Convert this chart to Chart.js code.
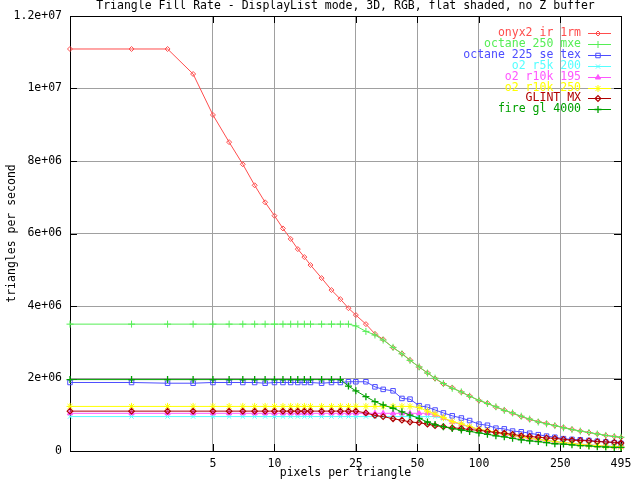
<!DOCTYPE html>
<html>
<head>
<meta charset="utf-8">
<script src="https://cdn.jsdelivr.net/npm/chart.js@4.4.0/dist/chart.umd.min.js"></script>
<style>
html,body{margin:0;padding:0;background:#ffffff;}
canvas{display:block;}
</style>
</head>
<body>
<canvas id="c" width="640" height="480"></canvas>
<script>
// ---------- data ----------
const titleText = "Triangle Fill Rate - DisplayList mode, 3D, RGB, flat shaded, no Z buffer";
const xAxisTitle = "pixels per triangle";
const yAxisTitle = "triangles per second";

const pixelsPerTriangle = [1,2,3,4,5,6,7,8,9,10,11,12,13,14,15,17,19,21,23,25,
  28,31,34,38,42,46,51,56,61,67,74,82,90,100,110,121,133,146,161,177,195,214,235,259,285,313,345,379,417,459,495];

const xTickValues = [1,5,10,25,50,100,250,495];
const xTickLabels = ["","5","10","25","50","100","250","495"];
const yTickValues = [0,2e6,4e6,6e6,8e6,10e6,12e6];
const yTickLabels = ["0","2e+06","4e+06","6e+06","8e+06","1e+07","1.2e+07"];

const seriesNames = ["onyx2 ir 1rm","octane 250 mxe","octane 225 se tex","o2 r5k 200","o2 r10k 195","o2 r10k 250","GLINT MX","fire gl 4000"];

const onyx2 = [11.09e6,11.09e6,11.09e6,10.40e6,9.27e6,8.52e6,7.91e6,7.33e6,6.86e6,6.49e6,6.14e6,5.85e6,5.57e6,5.35e6,5.13e6,
  4.77e6,4.44e6,4.19e6,3.94e6,3.75e6,
  3.50e6,3.23e6,3.08e6,2.85e6,2.69e6,2.51e6,2.31e6,2.16e6,2.00e6,1.85e6,
  1.75e6,1.62e6,1.52e6,1.39e6,1.32e6,1.21e6,1.13e6,1.04e6,0.95e6,0.87e6,
  0.81e6,0.76e6,0.70e6,0.65e6,0.60e6,0.55e6,0.51e6,0.47e6,0.43e6,0.40e6,0.37e6];

const octane250 = [3.50e6,3.50e6,3.50e6,3.50e6,3.50e6,3.50e6,3.50e6,3.50e6,3.50e6,3.50e6,3.50e6,3.50e6,3.50e6,3.50e6,3.50e6,
  3.50e6,3.50e6,3.50e6,3.50e6,3.45e6,
  3.30e6,3.20e6,3.06e6,2.86e6,2.68e6,2.50e6,2.32e6,2.15e6,2.01e6,1.86e6,
  1.73e6,1.63e6,1.51e6,1.40e6,1.31e6,1.22e6,1.12e6,1.05e6,0.96e6,0.88e6,
  0.80e6,0.75e6,0.70e6,0.64e6,0.59e6,0.55e6,0.51e6,0.47e6,0.43e6,0.40e6,0.38e6];

const octane225 = [1.89e6,1.89e6,1.87e6,1.87e6,1.89e6,1.89e6,1.89e6,1.89e6,1.87e6,1.89e6,1.89e6,1.89e6,1.89e6,1.89e6,1.89e6,
  1.87e6,1.89e6,1.89e6,1.91e6,1.91e6,
  1.91e6,1.77e6,1.70e6,1.66e6,1.45e6,1.43e6,1.25e6,1.21e6,1.13e6,1.05e6,
  0.97e6,0.91e6,0.84e6,0.74e6,0.71e6,0.63e6,0.61e6,0.55e6,0.53e6,0.49e6,
  0.45e6,0.41e6,0.38e6,0.34e6,0.32e6,0.31e6,0.29e6,0.27e6,0.25e6,0.23e6,0.21e6];

const o2r5k200 = [0.95e6,0.95e6,0.95e6,0.95e6,0.95e6,0.95e6,0.95e6,0.95e6,0.95e6,0.95e6,0.95e6,0.95e6,0.95e6,0.95e6,0.95e6,
  0.95e6,0.95e6,0.95e6,0.95e6,0.95e6,
  0.95e6,0.95e6,0.95e6,0.95e6,0.95e6,0.95e6,0.95e6,0.95e6,0.95e6,0.90e6,
  0.80e6,0.73e6,0.66e6,0.59e6,0.55e6,0.50e6,0.46e6,0.42e6,0.38e6,0.35e6,
  0.32e6,0.29e6,0.26e6,0.23e6,0.21e6,0.19e6,0.17e6,0.15e6,0.14e6,0.12e6,0.11e6];

const o2r10k195 = [1.04e6,1.04e6,1.04e6,1.04e6,1.04e6,1.04e6,1.04e6,1.04e6,1.04e6,1.04e6,1.04e6,1.04e6,1.04e6,1.04e6,1.04e6,
  1.04e6,1.04e6,1.04e6,1.04e6,1.04e6,
  1.04e6,1.04e6,1.04e6,1.04e6,1.04e6,1.04e6,1.04e6,1.04e6,1.00e6,0.91e6,
  0.80e6,0.74e6,0.66e6,0.60e6,0.55e6,0.50e6,0.46e6,0.42e6,0.38e6,0.35e6,
  0.32e6,0.29e6,0.26e6,0.23e6,0.21e6,0.19e6,0.17e6,0.15e6,0.14e6,0.12e6,0.11e6];

const o2r10k250 = [1.23e6,1.23e6,1.23e6,1.23e6,1.23e6,1.23e6,1.23e6,1.23e6,1.23e6,1.23e6,1.23e6,1.23e6,1.23e6,1.23e6,1.23e6,
  1.23e6,1.23e6,1.23e6,1.23e6,1.23e6,
  1.23e6,1.23e6,1.23e6,1.23e6,1.23e6,1.23e6,1.20e6,1.10e6,1.02e6,0.92e6,
  0.81e6,0.75e6,0.67e6,0.60e6,0.56e6,0.51e6,0.47e6,0.43e6,0.39e6,0.35e6,
  0.32e6,0.29e6,0.26e6,0.23e6,0.21e6,0.18e6,0.16e6,0.15e6,0.13e6,0.12e6,0.11e6];

const glintMX = [1.10e6,1.10e6,1.10e6,1.10e6,1.10e6,1.10e6,1.10e6,1.10e6,1.10e6,1.10e6,1.10e6,1.10e6,1.10e6,1.10e6,1.10e6,
  1.10e6,1.10e6,1.10e6,1.10e6,1.10e6,
  1.05e6,0.98e6,0.95e6,0.89e6,0.85e6,0.80e6,0.78e6,0.74e6,0.70e6,0.67e6,
  0.64e6,0.62e6,0.59e6,0.57e6,0.54e6,0.51e6,0.49e6,0.46e6,0.42e6,0.40e6,
  0.38e6,0.36e6,0.35e6,0.32e6,0.30e6,0.29e6,0.28e6,0.26e6,0.25e6,0.24e6,0.22e6];

const fireGL4000 = [1.97e6,1.97e6,1.97e6,1.97e6,1.97e6,1.97e6,1.97e6,1.97e6,1.97e6,1.97e6,1.97e6,1.97e6,1.97e6,1.97e6,1.97e6,
  1.97e6,1.97e6,1.97e6,1.79e6,1.66e6,
  1.50e6,1.36e6,1.27e6,1.18e6,1.08e6,0.99e6,0.90e6,0.80e6,0.73e6,0.67e6,
  0.62e6,0.58e6,0.54e6,0.50e6,0.46e6,0.42e6,0.39e6,0.35e6,0.31e6,0.28e6,
  0.26e6,0.23e6,0.20e6,0.19e6,0.17e6,0.15e6,0.14e6,0.12e6,0.11e6,0.10e6,0.10e6];

const seriesValues = [onyx2, octane250, octane225, o2r5k200, o2r10k195, o2r10k250, glintMX, fireGL4000];

// ---------- styles ----------
const seriesStyles = [
  {color:"#ff4d4d", point:"rectRot", radius:2.5, width:1, fill:"rgba(0,0,0,0)"},
  {color:"#55ee55", point:"cross", radius:3.5, width:1, fill:"rgba(0,0,0,0)"},
  {color:"#4d4dff", point:"rect", radius:3.2, width:1, fill:"rgba(0,0,0,0)"},
  {color:"#55ffff", point:"crossRot", radius:3, width:1, fill:"rgba(0,0,0,0)"},
  {color:"#ff55ff", point:"triangle", radius:3, width:1, fill:"#ff55ff"},
  {color:"#ffff00", point:"star", radius:3.5, width:1, fill:"rgba(0,0,0,0)"},
  {color:"#b00000", point:"rectRot", radius:2.8, width:1.2, fill:"rgba(0,0,0,0)"},
  {color:"#00a000", point:"cross", radius:3.5, width:1.3, fill:"rgba(0,0,0,0)"}
];
const FONT_FAMILY = '"DejaVu Sans Mono", "Liberation Mono", monospace';
const FONT_SIZE = 11.5;
const FONT = FONT_SIZE + 'px ' + FONT_FAMILY;

const datasets = seriesNames.map((name, i) => ({
  label: name,
  data: pixelsPerTriangle.map((x, j) => ({x: x, y: seriesValues[i][j]})),
  borderColor: seriesStyles[i].color,
  backgroundColor: seriesStyles[i].color,
  pointBackgroundColor: seriesStyles[i].fill,
  pointBorderColor: seriesStyles[i].color,
  pointStyle: seriesStyles[i].point,
  pointRadius: seriesStyles[i].radius,
  pointBorderWidth: seriesStyles[i].width,
  borderWidth: 1,
  tension: 0,
  fill: false,
  clip: false,
  order: seriesNames.length - i
}));

const gnuplotDecor = {
  id: 'gnuplotDecor',
  beforeDatasetsDraw(chart) {
    const ctx = chart.ctx, a = chart.chartArea, xs = chart.scales.x, ys = chart.scales.y;
    ctx.save();
    ctx.strokeStyle = '#000000';
    ctx.lineWidth = 1;
    ctx.beginPath();
    xTickValues.forEach(v => {
      if (v <= xs.min || v >= xs.max) return;
      const px = Math.round(xs.getPixelForValue(v)) + 0.5;
      ctx.moveTo(px, a.bottom); ctx.lineTo(px, a.bottom - 7);
      ctx.moveTo(px, a.top); ctx.lineTo(px, a.top + 7);
    });
    yTickValues.forEach(v => {
      if (v <= ys.min || v >= ys.max) return;
      const py = Math.round(ys.getPixelForValue(v)) + 0.5;
      ctx.moveTo(a.left, py); ctx.lineTo(a.left + 7, py);
      ctx.moveTo(a.right, py); ctx.lineTo(a.right - 7, py);
    });
    ctx.stroke();
    ctx.strokeRect(Math.round(a.left) + 0.5, Math.round(a.top) + 0.5,
                   Math.round(a.right - a.left), Math.round(a.bottom - a.top));
    ctx.restore();
  },
  afterDraw(chart) {
    const ctx = chart.ctx, a = chart.chartArea;
    ctx.save();
    ctx.font = FONT;
    ctx.fillStyle = '#000000';
    ctx.textAlign = 'center';
    ctx.textBaseline = 'middle';
    const cx = (a.left + a.right) / 2;
    ctx.fillText(titleText, cx, 6);
    ctx.fillText(xAxisTitle, cx, 473);
    ctx.save();
    ctx.translate(12, (a.top + a.bottom) / 2);
    ctx.rotate(-Math.PI / 2);
    ctx.fillText(yAxisTitle, 0, 0);
    ctx.restore();
    // key
    chart.data.datasets.forEach((ds, i) => {
      const yy = Math.round(33 + i * 10.9) + 0.5;
      ctx.font = FONT;
      ctx.textAlign = 'right';
      ctx.textBaseline = 'middle';
      ctx.fillStyle = ds.borderColor;
      ctx.fillText(ds.label, 581, yy);
      ctx.strokeStyle = ds.borderColor;
      ctx.lineWidth = 1;
      ctx.beginPath();
      ctx.moveTo(588, yy); ctx.lineTo(611, yy);
      ctx.stroke();
      ctx.fillStyle = ds.pointBackgroundColor;
      ctx.lineWidth = ds.pointBorderWidth;
      Chart.helpers.drawPoint(ctx, {pointStyle: ds.pointStyle, radius: ds.pointRadius, borderWidth: ds.pointBorderWidth, rotation: 0}, 598, yy);
    });
    ctx.restore();
  }
};

new Chart(document.getElementById('c'), {
  type: 'line',
  data: { datasets: datasets },
  options: {
    responsive: false,
    animation: false,
    devicePixelRatio: 1,
    layout: { padding: { top: 16, right: 19, left: 0, bottom: 0 } },
    plugins: {
      legend: { display: false },
      title: { display: false },
      tooltip: { enabled: false }
    },
    events: [],
    scales: {
      x: {
        type: 'logarithmic',
        min: 1,
        max: 495,
        afterBuildTicks: (scale) => { scale.ticks = xTickValues.map(v => ({value: v})); },
        afterFit: (scale) => { scale.height = 29; },
        ticks: {
          autoSkip: false,
          maxRotation: 0,
          minRotation: 0,
          padding: 6,
          color: '#000000',
          font: { family: FONT_FAMILY, size: FONT_SIZE },
          callback: (v, idx) => xTickLabels[idx]
        },
        grid: { color: '#a0a0a0', lineWidth: 1, drawTicks: false },
        border: { display: true, color: '#000000', width: 1 }
      },
      y: {
        type: 'linear',
        min: 0,
        max: 12e6,
        afterBuildTicks: (scale) => { scale.ticks = yTickValues.map(v => ({value: v})); },
        afterFit: (scale) => { scale.width = 70; },
        ticks: {
          padding: 8,
          color: '#000000',
          font: { family: FONT_FAMILY, size: FONT_SIZE },
          callback: (v, idx) => yTickLabels[idx]
        },
        grid: { color: '#a0a0a0', lineWidth: 1, drawTicks: false },
        border: { display: true, color: '#000000', width: 1 }
      }
    }
  },
  plugins: [gnuplotDecor]
});
</script>
</body>
</html>
